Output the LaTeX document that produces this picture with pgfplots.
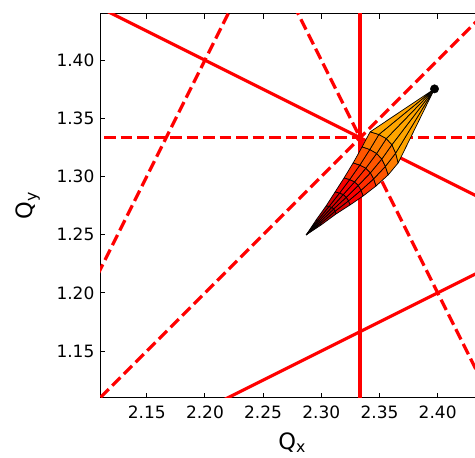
\documentclass[border=0pt]{standalone}
\usepackage{fontspec}
\setmainfont{DejaVu Sans}
\usepackage{amsmath}
\usepackage{pgfplots}
\usepackage{pgfplotstable}
\pgfplotsset{compat=1.18}
\pgfplotstableread{
x y c
2.2870 1.2498 1
2.2870 1.2498 1
2.2993 1.2596 1
2.2999 1.2584 1
2.2870 1.2498 1
2.2870 1.2498 1
2.2987 1.2607 1
2.2993 1.2596 1
2.2870 1.2498 1
2.2870 1.2498 1
2.2978 1.2616 1
2.2987 1.2607 1
2.2870 1.2498 1
2.2870 1.2498 1
2.2968 1.2622 1
2.2978 1.2616 1
2.2870 1.2498 1
2.2870 1.2498 1
2.2956 1.2627 1
2.2968 1.2622 1
2.2999 1.2584 2
2.2993 1.2596 2
2.3119 1.2702 2
2.3128 1.2679 2
2.2993 1.2596 2
2.2987 1.2607 2
2.3107 1.2722 2
2.3119 1.2702 2
2.2987 1.2607 2
2.2978 1.2616 2
2.3090 1.2735 2
2.3107 1.2722 2
2.2978 1.2616 2
2.2968 1.2622 2
2.3067 1.2743 2
2.3090 1.2735 2
2.2968 1.2622 2
2.2956 1.2627 2
2.3042 1.2748 2
2.3067 1.2743 2
2.3128 1.2679 3
2.3119 1.2702 3
2.3234 1.2791 3
2.3248 1.2756 3
2.3119 1.2702 3
2.3107 1.2722 3
2.3215 1.2822 3
2.3234 1.2791 3
2.3107 1.2722 3
2.3090 1.2735 3
2.3189 1.2845 3
2.3215 1.2822 3
2.3090 1.2735 3
2.3067 1.2743 3
2.3157 1.2858 3
2.3189 1.2845 3
2.3067 1.2743 3
2.3042 1.2748 3
2.3119 1.2868 3
2.3157 1.2858 3
2.3248 1.2756 4
2.3234 1.2791 4
2.3342 1.2882 4
2.3360 1.2833 4
2.3234 1.2791 4
2.3215 1.2822 4
2.3318 1.2923 4
2.3342 1.2882 4
2.3215 1.2822 4
2.3189 1.2845 4
2.3286 1.2954 4
2.3318 1.2923 4
2.3189 1.2845 4
2.3157 1.2858 4
2.3244 1.2974 4
2.3286 1.2954 4
2.3157 1.2858 4
2.3119 1.2868 4
2.3196 1.2988 4
2.3244 1.2974 4
2.3360 1.2833 5
2.3342 1.2882 5
2.3450 1.2980 5
2.3471 1.2919 5
2.3342 1.2882 5
2.3318 1.2923 5
2.3422 1.3032 5
2.3450 1.2980 5
2.3318 1.2923 5
2.3286 1.2954 5
2.3383 1.3072 5
2.3422 1.3032 5
2.3286 1.2954 5
2.3244 1.2974 5
2.3331 1.3098 5
2.3383 1.3072 5
2.3244 1.2974 5
2.3196 1.2988 5
2.3274 1.3117 5
2.3331 1.3098 5
2.3471 1.2919 6
2.3450 1.2980 6
2.3551 1.3087 6
2.3575 1.3014 6
2.3450 1.2980 6
2.3422 1.3032 6
2.3520 1.3150 6
2.3551 1.3087 6
2.3422 1.3032 6
2.3383 1.3072 6
2.3476 1.3198 6
2.3520 1.3150 6
2.3383 1.3072 6
2.3331 1.3098 6
2.3417 1.3232 6
2.3476 1.3198 6
2.3331 1.3098 6
2.3274 1.3117 6
2.3351 1.3255 6
2.3417 1.3232 6
2.3575 1.3014 7
2.3551 1.3087 7
2.3639 1.3201 7
2.3661 1.3117 7
2.3551 1.3087 7
2.3520 1.3150 7
2.3607 1.3273 7
2.3639 1.3201 7
2.3520 1.3150 7
2.3476 1.3198 7
2.3559 1.3326 7
2.3607 1.3273 7
2.3476 1.3198 7
2.3417 1.3232 7
2.3495 1.3361 7
2.3559 1.3326 7
2.3417 1.3232 7
2.3351 1.3255 7
2.3420 1.3384 7
2.3495 1.3361 7
2.3661 1.3117 8
2.3639 1.3201 8
2.3973 1.3753 8
2.3973 1.3753 8
2.3639 1.3201 8
2.3607 1.3273 8
2.3973 1.3753 8
2.3973 1.3753 8
2.3607 1.3273 8
2.3559 1.3326 8
2.3973 1.3753 8
2.3973 1.3753 8
2.3559 1.3326 8
2.3495 1.3361 8
2.3973 1.3753 8
2.3973 1.3753 8
2.3495 1.3361 8
2.3420 1.3384 8
2.3973 1.3753 8
2.3973 1.3753 8
}\fptable
\begin{document}
\begin{tikzpicture}
\begin{axis}[
  at={(0,0)}, anchor=south west,
  scale only axis, width=384pt, height=384pt,
  xmin=2.11, xmax=2.44, ymin=1.11, ymax=1.44,
  xtick={2.15,2.20,2.25,2.30,2.35,2.40},
  ytick={1.15,1.20,1.25,1.30,1.35,1.40},
  /pgf/number format/fixed,
  /pgf/number format/fixed zerofill,
  /pgf/number format/precision=2,
  /pgf/number format/assume math mode=true,
  tick label style={font=\fontsize{17}{20}\selectfont},
  xticklabel style={yshift=-4.7pt},
  yticklabel style={xshift=-2.3pt},
  tick style={black, line width=0.9pt},
  major tick length=5pt,
  axis line style={black, line width=1pt},
  xlabel={$\text{Q}_{\text{x}}$},
  ylabel={$\text{Q}_{\text{y}}$},
  label style={font=\fontsize{22.5}{26}\selectfont},
  xlabel style={at={(axis description cs:0.5,-0.134)}, anchor=base},
  ylabel style={at={(axis description cs:-0.175,0.5)}, anchor=base},
  colormap={fp}{rgb255=(135,0,0) rgb255=(175,0,0) rgb255=(215,0,0) rgb255=(250,0,0) rgb255=(255,45,0) rgb255=(255,85,0) rgb255=(255,125,0) rgb255=(255,165,0)},
  point meta min=1, point meta max=8,
]
\coordinate (bl) at (rel axis cs:0,0);
% normal resonances (solid)
\addplot[red, line width=3.2pt] coordinates {(2.0,1.5) (2.6,1.2)};
\addplot[red, line width=3.2pt] coordinates {(2.0,1.0) (2.6,1.3)};
\addplot[red, line width=3.2pt] coordinates {(2.333333,1.0) (2.333333,1.6)};
% skew resonances (dashed)
\addplot[red, line width=3.2pt, dash pattern=on 11.5pt off 5pt] coordinates {(2.0,1.333333) (2.6,1.333333)};
\addplot[red, line width=3.2pt, dash pattern=on 11.5pt off 5pt] coordinates {(2.0,1.0) (2.3,1.6)};
\addplot[red, line width=3.2pt, dash pattern=on 11.5pt off 5pt] coordinates {(2.2,1.6) (2.5,1.0)};
\addplot[red, line width=3.2pt, dash pattern=on 11.5pt off 5pt] coordinates {(2.0,1.0) (2.6,1.6)};
% footprint
\addplot[patch, patch type=rectangle, shader=faceted, faceted color=black, line width=0.7pt] table[x=x, y=y, point meta=\thisrow{c}] {\fptable};
\addplot[only marks, mark=*, mark size=4.2pt, black] coordinates {(2.3973,1.3753)};
\end{axis}
\pgfresetboundingbox
\path[use as bounding box] (bl) ++(-100.2pt,-60.4pt) rectangle ++(475pt,458pt);
\end{tikzpicture}
\end{document}
